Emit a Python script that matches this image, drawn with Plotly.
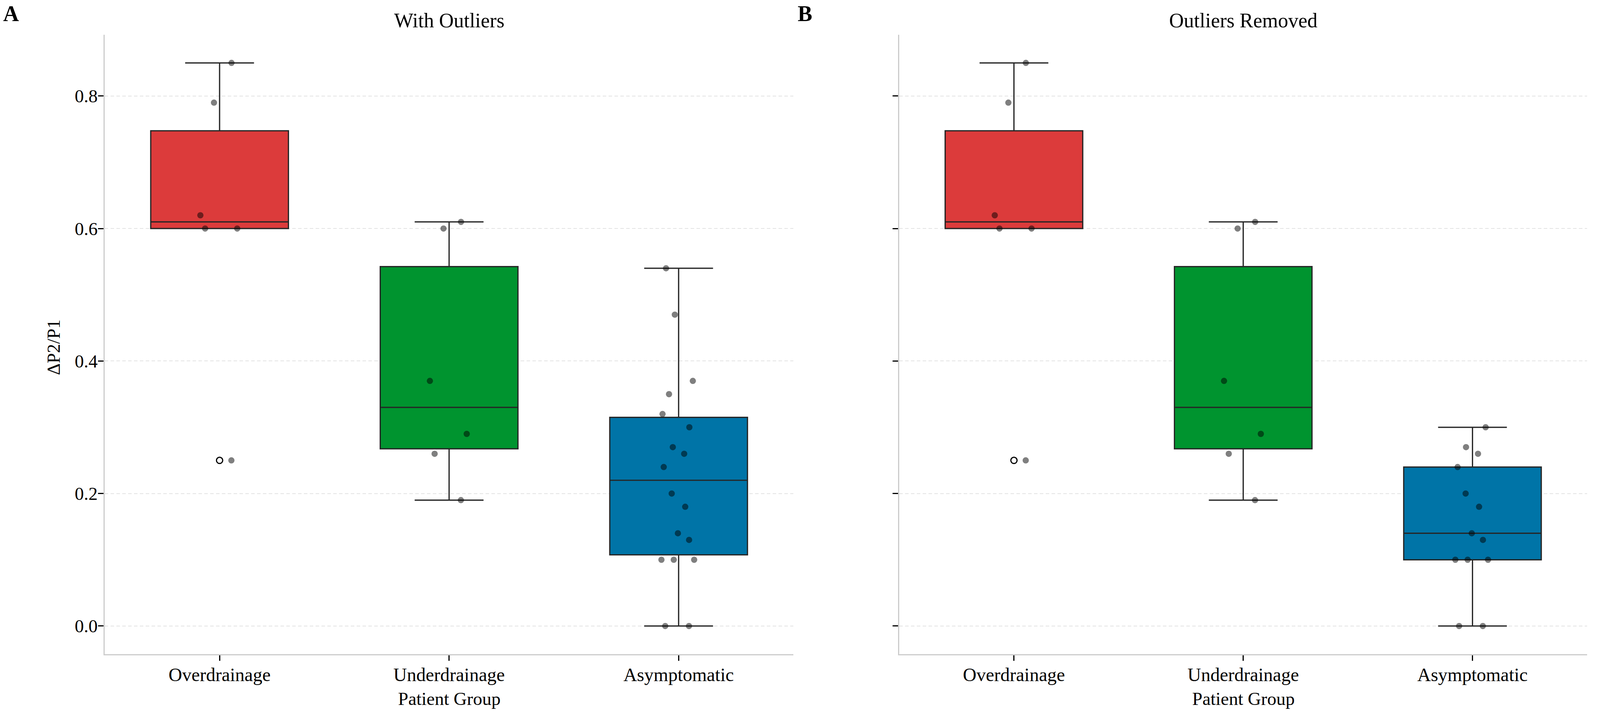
import numpy as np
import plotly.graph_objects as go

# ---------------- data ----------------
categories = ["Overdrainage", "Underdrainage", "Asymptomatic"]
box_colors = ["#DC3B3B", "#00942F", "#0074A7"]

# Panel A - with outliers
over_a = [0.85, 0.79, 0.62, 0.60, 0.60, 0.25]
under_a = [0.61, 0.60, 0.37, 0.29, 0.26, 0.19]
asym_a = [0.54, 0.47, 0.37, 0.35, 0.32, 0.30, 0.27, 0.26, 0.24,
          0.20, 0.18, 0.14, 0.13, 0.10, 0.10, 0.10, 0.00, 0.00]

# Panel B - outliers removed
over_b = [0.85, 0.79, 0.62, 0.60, 0.60, 0.25]
under_b = [0.61, 0.60, 0.37, 0.29, 0.26, 0.19]
asym_b = [0.30, 0.27, 0.26, 0.24, 0.20, 0.18, 0.14, 0.13,
          0.10, 0.10, 0.10, 0.00, 0.00]

y_tick_vals = [0.0, 0.2, 0.4, 0.6, 0.8]
y_tick_text = ["0.0", "0.2", "0.4", "0.6", "0.8"]
panel_titles = ["With Outliers", "Outliers Removed"]
panel_letters = ["A", "B"]
x_title = "Patient Group"
y_title = "ΔP2/P1"

panels = [
    [over_a, under_a, asym_a],
    [over_b, under_b, asym_b],
]

# ---------------- helpers ----------------
def box_stats(vals):
    v = np.sort(np.asarray(vals, dtype=float))
    q1, med, q3 = np.percentile(v, [25, 50, 75])
    iqr = q3 - q1
    lo_lim = q1 - 1.5 * iqr - 1e-9
    hi_lim = q3 + 1.5 * iqr + 1e-9
    inside = v[(v >= lo_lim) & (v <= hi_lim)]
    fliers = v[(v < lo_lim) | (v > hi_lim)]
    return q1, med, q3, inside.min(), inside.max(), fliers

FONT = "Liberation Serif"
W, H = 4350.0, 1841.0  # reference pixel frame used for paper fractions
LW = 3.2
MS = 16

fig = go.Figure()

for p, groups in enumerate(panels):
    xa = "x" if p == 0 else "x2"
    ya = "y" if p == 0 else "y2"
    for cat, col, vals in zip(categories, box_colors, groups):
        q1, med, q3, lf, uf, fl = box_stats(vals)
        fig.add_trace(go.Box(
            x=[cat], q1=[q1], median=[med], q3=[q3],
            lowerfence=[lf], upperfence=[uf],
            width=0.6, whiskerwidth=0.5,
            fillcolor=col, line=dict(color="#262626", width=LW),
            boxpoints=False, showlegend=False, hoverinfo="skip",
            xaxis=xa, yaxis=ya,
        ))
        if len(fl):
            fig.add_trace(go.Scatter(
                x=[cat] * len(fl), y=list(fl), mode="markers",
                marker=dict(size=MS, color="white",
                            line=dict(color="black", width=3)),
                showlegend=False, hoverinfo="skip",
                xaxis=xa, yaxis=ya,
            ))
    for cat, vals in zip(categories, groups):
        fig.add_trace(go.Box(
            x=[cat] * len(vals), y=vals,
            boxpoints="all", jitter=0.33, pointpos=0,
            width=0.6, fillcolor="rgba(0,0,0,0)",
            line=dict(color="rgba(0,0,0,0)", width=0),
            marker=dict(size=MS, color="rgba(0,0,0,0.5)"),
            showlegend=False, hoverinfo="skip",
            xaxis=xa, yaxis=ya,
        ))

x_domains = [[285 / W, 2157 / W], [2445 / W, 4315 / W]]
y_domain = [(H - 1675) / H, (H - 89) / H]

xaxis_common = dict(
    type="category", categoryorder="array", categoryarray=categories,
    range=[-0.5, 2.5], showline=True, linecolor="#cccccc", linewidth=2.8,
    ticks="outside", ticklen=14, tickwidth=2.8, tickcolor="black",
    showgrid=False, zeroline=False, ticklabelstandoff=-6,
    tickfont=dict(family=FONT, size=48, color="black"),
)
yaxis_common = dict(
    range=[-0.0425, 0.8925], domain=y_domain,
    tickvals=y_tick_vals, ticktext=y_tick_text,
    showline=True, linecolor="#cccccc", linewidth=2.8,
    ticks="outside", ticklen=14, tickwidth=2.8, tickcolor="black",
    showgrid=True, gridcolor="#e3e3e3", gridwidth=2, griddash="9px,6px",
    zeroline=False, ticklabelstandoff=-8,
    tickfont=dict(family=FONT, size=47, color="black"),
)

fig.update_layout(
    autosize=True,
    margin=dict(l=0, r=0, t=0, b=0, pad=0),
    paper_bgcolor="white", plot_bgcolor="white",
    boxmode="overlay",
    xaxis=dict(domain=x_domains[0], anchor="y", **xaxis_common),
    xaxis2=dict(domain=x_domains[1], anchor="y2", **xaxis_common),
    yaxis=dict(anchor="x", **yaxis_common),
    yaxis2=dict(anchor="x2", showticklabels=False, **yaxis_common),
    font=dict(family=FONT, color="black"),
)

annotations = []
for p in range(2):
    cx = (x_domains[p][0] + x_domains[p][1]) / 2
    annotations.append(dict(
        text=panel_titles[p], x=cx, y=(H - 53) / H,
        xref="paper", yref="paper", xanchor="center", yanchor="middle",
        showarrow=False, font=dict(family=FONT, size=52, color="black"),
    ))
    annotations.append(dict(
        text=x_title, x=cx, y=(H - 1789) / H,
        xref="paper", yref="paper", xanchor="center", yanchor="middle",
        showarrow=False, font=dict(family=FONT, size=47, color="black"),
    ))
annotations.append(dict(
    text="<b>A</b>", x=6 / W, y=(H - 35) / H,
    xref="paper", yref="paper", xanchor="left", yanchor="middle",
    showarrow=False, font=dict(family=FONT, size=56, color="black"),
))
annotations.append(dict(
    text="<b>B</b>", x=2167 / W, y=(H - 35) / H,
    xref="paper", yref="paper", xanchor="left", yanchor="middle",
    showarrow=False, font=dict(family=FONT, size=56, color="black"),
))
annotations.append(dict(
    text=y_title, x=146 / W, y=(H - 889) / H, textangle=-90,
    xref="paper", yref="paper", xanchor="center", yanchor="middle",
    showarrow=False, font=dict(family=FONT, size=47, color="black"),
))
fig.update_layout(annotations=annotations)

post = """
document.documentElement.style.margin='0';
document.documentElement.style.overflow='hidden';
document.body.style.margin='0';
document.body.style.overflow='hidden';
var gd = document.getElementById('{plot_id}');
Plotly.Plots.resize(gd);
"""

fig.write_html(
    "out.html",
    default_width="100vw",
    default_height="100vh",
    config={"responsive": True, "displayModeBar": False},
    post_script=post,
)
